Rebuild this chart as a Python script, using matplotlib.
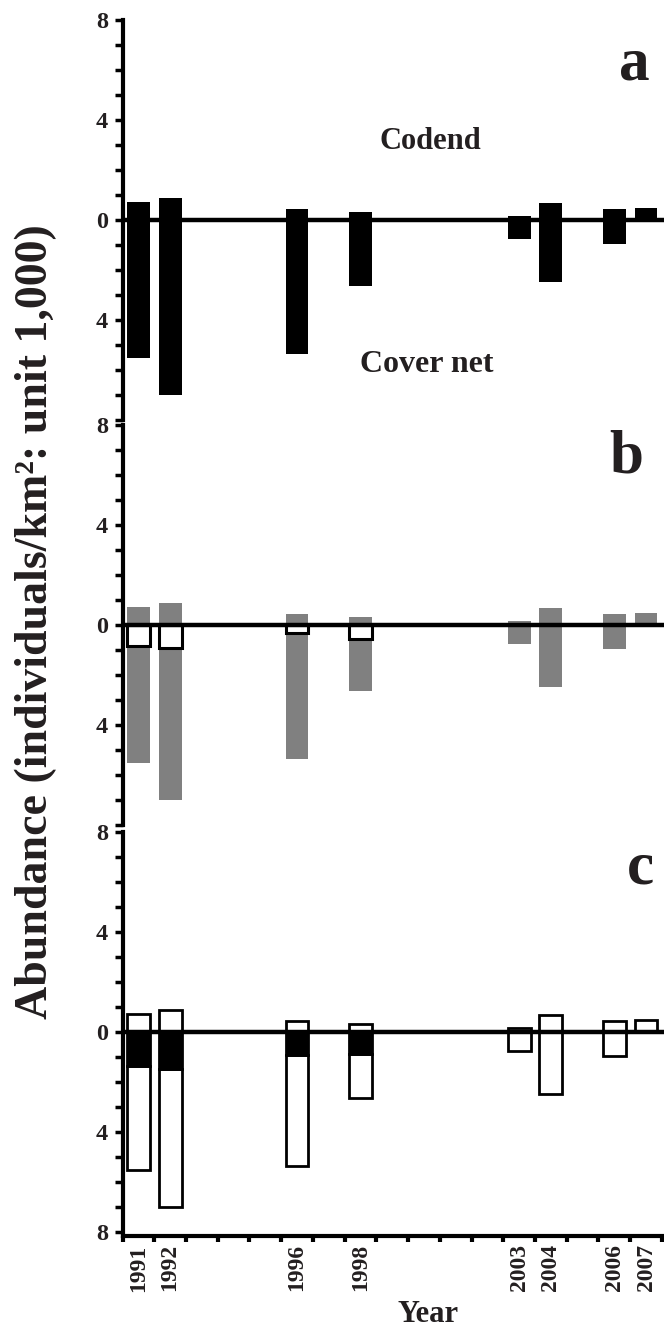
import matplotlib
matplotlib.use("Agg")
import matplotlib.pyplot as plt
import numpy as np

plt.rcParams["font.family"] = ["Liberation Serif", "DejaVu Serif"]
plt.rcParams["font.weight"] = "bold"

TEXT_COLOR = "#231f20"

# Abundance, individuals/km^2 (unit 1,000)
years = [1991, 1992, 1996, 1998, 2003, 2004, 2006, 2007]
codend = [0.73, 0.87, 0.46, 0.33, 0.16, 0.67, 0.43, 0.50]
cover_net = [5.50, 7.00, 5.35, 2.65, 0.77, 2.46, 0.97, 0.0]
cover_part_b = [0.84, 0.91, 0.33, 0.56, 0.0, 0.0, 0.0, 0.0]  # open boxes, panel b
cover_part_c = [1.35, 1.48, 0.92, 0.86, 0.0, 0.0, 0.0, 0.0]  # black part, panel c

W, H = 664, 1331
LEFT, RIGHT = 122.5, 663.5
BAR_W = 0.72


def px_axes(fig, top, bottom):
    return fig.add_axes([LEFT / W, 1 - bottom / H, (RIGHT - LEFT) / W, (bottom - top) / H])


def style_axes(ax, ymin, show_bottom_label, show_x):
    ax.set_xlim(1990.5, 2007.55)
    ax.set_ylim(ymin, 8)
    for side in ("top", "right"):
        ax.spines[side].set_visible(False)
    ax.spines["left"].set_linewidth(3)
    ax.spines["bottom"].set_linewidth(3)
    ticks = list(range(-8, 9))
    labels = [str(abs(t)) if t % 4 == 0 else "" for t in ticks]
    if not show_bottom_label:
        labels[0] = ""
    ax.set_yticks(ticks)
    ax.set_yticklabels(labels)
    ax.tick_params(axis="y", direction="out", length=5.5, width=2.5, pad=5,
                   labelsize=17.5, labelcolor=TEXT_COLOR)
    ax.axhline(0, color="black", lw=3.2, zorder=3)
    if show_x:
        ax.set_xticks(years)
        ax.set_xticklabels([str(y) for y in years], rotation=90)
        ax.set_xticks(np.arange(1990.5, 2008, 1.0), minor=True)
        ax.tick_params(axis="x", which="major", length=0, pad=6, labelsize=17,
                       labelcolor=TEXT_COLOR)
        ax.tick_params(axis="x", which="minor", direction="out", length=4, width=3)
    else:
        ax.spines["bottom"].set_visible(False)
        ax.set_xticks([])


yrs = np.array(years)
pos = np.array(codend)
neg = -np.array(cover_net)
pb = -np.array(cover_part_b)
pc = -np.array(cover_part_c)
has_b = np.array(cover_part_b) > 0
has_c = np.array(cover_part_c) > 0
has_neg = np.array(cover_net) > 0

fig = plt.figure(figsize=(W / 100, H / 100), dpi=100)

# panel a
ax_a = px_axes(fig, 20, 420)
ax_a.bar(yrs, pos, width=BAR_W, color="black")
ax_a.bar(yrs[has_neg], neg[has_neg], width=BAR_W, color="black")
style_axes(ax_a, -8, False, False)

# panel b
ax_b = px_axes(fig, 425, 825)
ax_b.bar(yrs, pos, width=BAR_W, color="#808080")
ax_b.bar(yrs[has_neg], (neg - pb)[has_neg], bottom=pb[has_neg], width=BAR_W,
         color="#808080")
ax_b.bar(yrs[has_b], pb[has_b], width=BAR_W, color="white", edgecolor="black",
         linewidth=2.2)
style_axes(ax_b, -8, False, False)

# panel c
ax_c = px_axes(fig, 832, 1236)
ax_c.bar(yrs, pos, width=BAR_W, color="white", edgecolor="black", linewidth=2.0)
ax_c.bar(yrs[has_neg], (neg - pc)[has_neg], bottom=pc[has_neg], width=BAR_W,
         color="white", edgecolor="black", linewidth=2.0)
ax_c.bar(yrs[has_c], pc[has_c], width=BAR_W, color="black", edgecolor="black",
         linewidth=2.0)
style_axes(ax_c, -8.16, True, True)


def ftext(x, y, s, **kw):
    fig.text(x / W, 1 - y / H, s, color=TEXT_COLOR, fontweight="bold", **kw)


ftext(634, 79, "a", fontsize=44, ha="center", va="baseline")
ftext(626, 473, "b", fontsize=44, ha="center", va="baseline")
ftext(640, 883, "c", fontsize=44, ha="center", va="baseline")
ftext(430, 149, "Codend", fontsize=22, ha="center", va="baseline")
ftext(427, 372, "Cover net", fontsize=23, ha="center", va="baseline")
ftext(36, 622, "Abundance (individuals/km²: unit 1,000)", fontsize=33,
      rotation=90, ha="center", va="center")
ftext(428, 1314, "Year", fontsize=22, ha="center", va="center")

fig.savefig("out.png", dpi=100)
